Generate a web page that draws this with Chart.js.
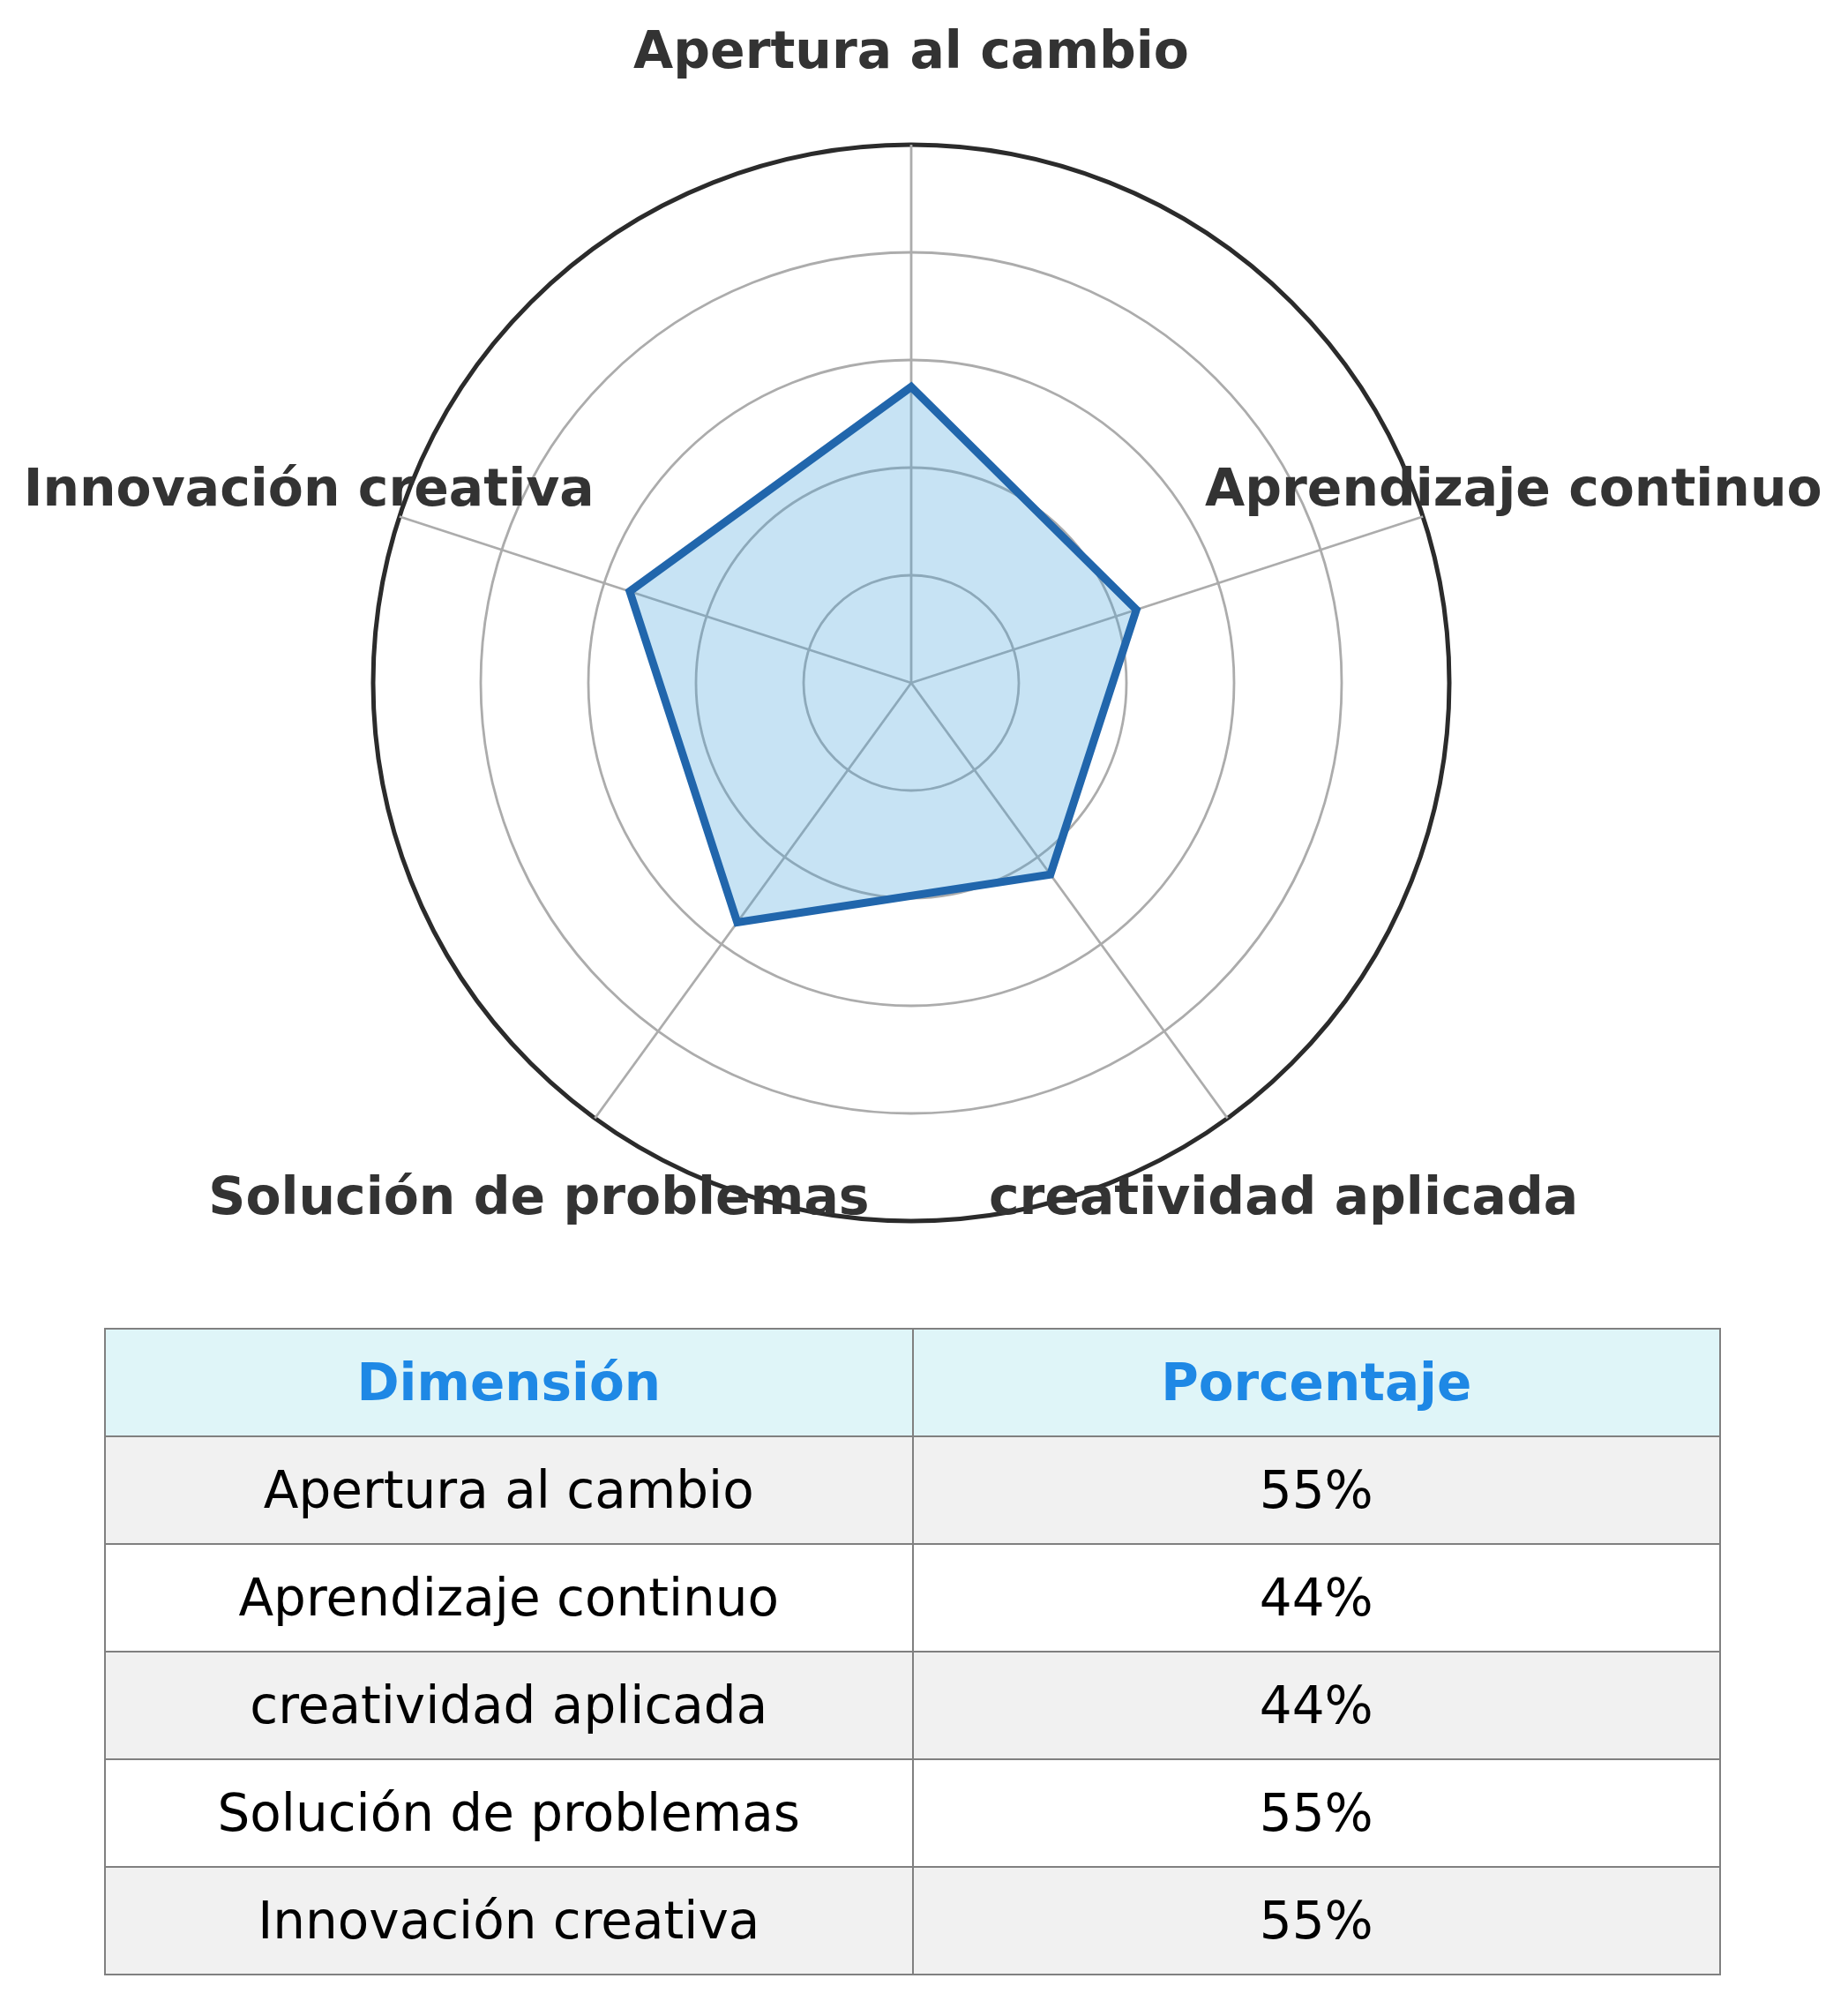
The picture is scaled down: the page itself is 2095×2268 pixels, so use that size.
<!DOCTYPE html>
<html><head><meta charset="utf-8">
<script src="https://cdn.jsdelivr.net/npm/chart.js@4/dist/chart.umd.min.js"></script>
<style>
html,body{margin:0;padding:0;background:#fff;width:2095px;height:2268px;overflow:hidden;}
#wrap{position:absolute;left:0;top:0;width:2095px;height:1480px;}
table{position:absolute;left:118px;top:1505px;width:1833px;border-collapse:collapse;table-layout:fixed;font-family:"DejaVu Sans";font-size:58px;}
td,th{border:2px solid #808080;height:120px;padding:0;text-align:center;vertical-align:middle;color:#000;font-weight:normal;}
th{background:#dff5f8;color:#1e88e5;font-weight:bold;}
tbody tr:nth-child(odd) td{background:#f1f1f1}
tbody tr:nth-child(even) td{background:#fff}
</style></head>
<body>
<div id="wrap"><canvas id="c"></canvas></div>
<table id="t"><thead><tr><th id="h1"></th><th id="h2"></th></tr></thead><tbody id="tb"></tbody></table>
<script>
const categories = ['Apertura al cambio', 'Aprendizaje continuo', 'creatividad aplicada', 'Solución de problemas', 'Innovación creativa'];
const percentages = [55, 44, 44, 55, 55];
const radialTicks = [0, 20, 40, 60, 80, 100];
const tableHeaders = ['Dimensión', 'Porcentaje'];

document.getElementById('h1').textContent = tableHeaders[0];
document.getElementById('h2').textContent = tableHeaders[1];
const tb = document.getElementById('tb');
categories.forEach((c, i) => {
  const tr = document.createElement('tr');
  const a = document.createElement('td'); a.textContent = c;
  const b = document.createElement('td'); b.textContent = percentages[i] + '%';
  tr.appendChild(a); tr.appendChild(b); tb.appendChild(tr);
});

const labelPlugin = {
  id: 'axisLabels',
  afterDraw(chart) {
    const scale = chart.scales.r;
    const ctx = chart.ctx;
    ctx.save();
    ctx.font = 'bold 58.4px "DejaVu Sans"';
    ctx.fillStyle = '#333333';
    ctx.textAlign = 'center';
    ctx.textBaseline = 'alphabetic';
    categories.forEach((lab, i) => {
      const p = scale.getPointPosition(i, scale.drawingArea * 1.177);
      ctx.fillText(lab, p.x, p.y + 21);
    });
    ctx.restore();
  }
};

new Chart(document.getElementById('c'), {
  type: 'radar',
  data: {
    labels: categories,
    datasets: [{
      data: percentages,
      borderColor: '#2166ac',
      backgroundColor: 'rgba(68,162,218,0.3)',
      borderWidth: 9,
      pointRadius: 0,
      pointHoverRadius: 0,
      borderJoinStyle: 'miter',
      fill: true,
      tension: 0
    }]
  },
  options: {
    responsive: true,
    maintainAspectRatio: false,
    animation: false,
    events: [],
    layout: { padding: { left: 423, right: 452, top: 164, bottom: 96 } },
    plugins: { legend: { display: false }, tooltip: { enabled: false } },
    scales: {
      r: {
        min: 0, max: 100,
        afterBuildTicks: s => { s.ticks = radialTicks.map(v => ({ value: v })); },
        ticks: { display: false, stepSize: 20 },
        pointLabels: { display: false },
        grid: {
          circular: true,
          color: c => (c.tick && c.tick.value === 100) ? '#2b2b2b' : '#acacac',
          lineWidth: c => (c.tick && c.tick.value === 100) ? 5 : 2.8
        },
        angleLines: { color: '#acacac', lineWidth: 2.8 }
      }
    }
  },
  plugins: [labelPlugin]
});
</script>
</body></html>
